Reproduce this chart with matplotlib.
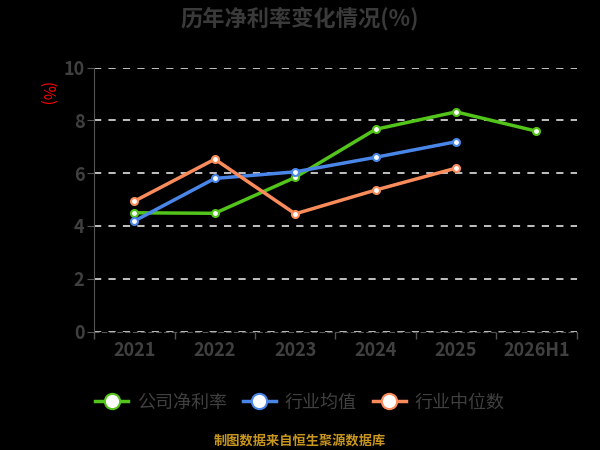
import matplotlib.pyplot as plt

plt.rcParams['font.family'] = ['Noto Sans CJK SC', 'DejaVu Sans']

years = ['2021', '2022', '2023', '2024', '2025', '2026H1']
company = [4.50, 4.48, 5.84, 7.66, 8.32, 7.59]
ind_mean = [4.19, 5.80, 6.05, 6.60, 7.19]
ind_median = [4.94, 6.53, 4.46, 5.36, 6.19]

fig = plt.figure(figsize=(6, 4.5), dpi=100, facecolor='black')
ax = fig.add_axes([0.157, 0.263, 0.804, 0.587])
ax.set_facecolor('black')

x = list(range(len(years)))
mk = dict(marker='o', markersize=5, markerfacecolor='white', markeredgewidth=1.5, linewidth=2.5)
ax.plot(x, company, color='#52c41a', label='公司净利率', **mk)
ax.plot(x[:len(ind_mean)], ind_mean, color='#4a86e8', label='行业均值', **mk)
ax.plot(x[:len(ind_median)], ind_median, color='#fa8c5c', label='行业中位数', **mk)

ax.set_xlim(-0.5, len(years) - 0.5)
ax.set_ylim(0, 10)
ax.set_yticks([0, 2, 4, 6, 8, 10])
ax.yaxis.grid(True, linestyle=(0, (4, 4)), color='#d0d0d0', linewidth=1.3)
ax.set_axisbelow(True)

ax.set_xticks(x)
ax.set_xticklabels(years, fontweight='bold')
ax.set_xticks([i - 0.5 for i in range(len(years) + 1)], minor=True)
ax.tick_params(axis='x', which='major', length=0, pad=7, labelsize=13, labelcolor='#404040')
ax.tick_params(axis='x', which='minor', length=5, color='#555555', width=1)
ax.tick_params(axis='y', length=5, color='#555555', labelsize=13, labelcolor='#404040', pad=2)
for t in ax.get_yticklabels():
    t.set_fontweight('bold')

for s in ['top', 'right']:
    ax.spines[s].set_visible(False)
ax.spines['left'].set_color('#555555')
ax.spines['bottom'].set_color('#555555')
ax.spines['bottom'].set_linestyle((0, (4, 3)))

fig.text(0.5, 0.96, '历年净利率变化情况(%)', ha='center', va='center',
         fontsize=16, fontweight='bold', color='#3a3a3a')
fig.text(0.077, 0.79, '(%)', ha='center', va='center', rotation=-90,
         fontsize=11, color='red')

leg = fig.legend(loc='center', bbox_to_anchor=(0.5, 0.105), ncol=3, frameon=False,
                 fontsize=13, labelcolor='#404040', handlelength=1.8, columnspacing=0.9,
                 handletextpad=0.5, markerscale=2.2)
fig.text(0.5, 0.02, '制图数据来自恒生聚源数据库', ha='center', va='center',
         fontsize=9.5, fontweight='bold', color='#c8961e')

fig.savefig('out.png', dpi=100, facecolor='black')
